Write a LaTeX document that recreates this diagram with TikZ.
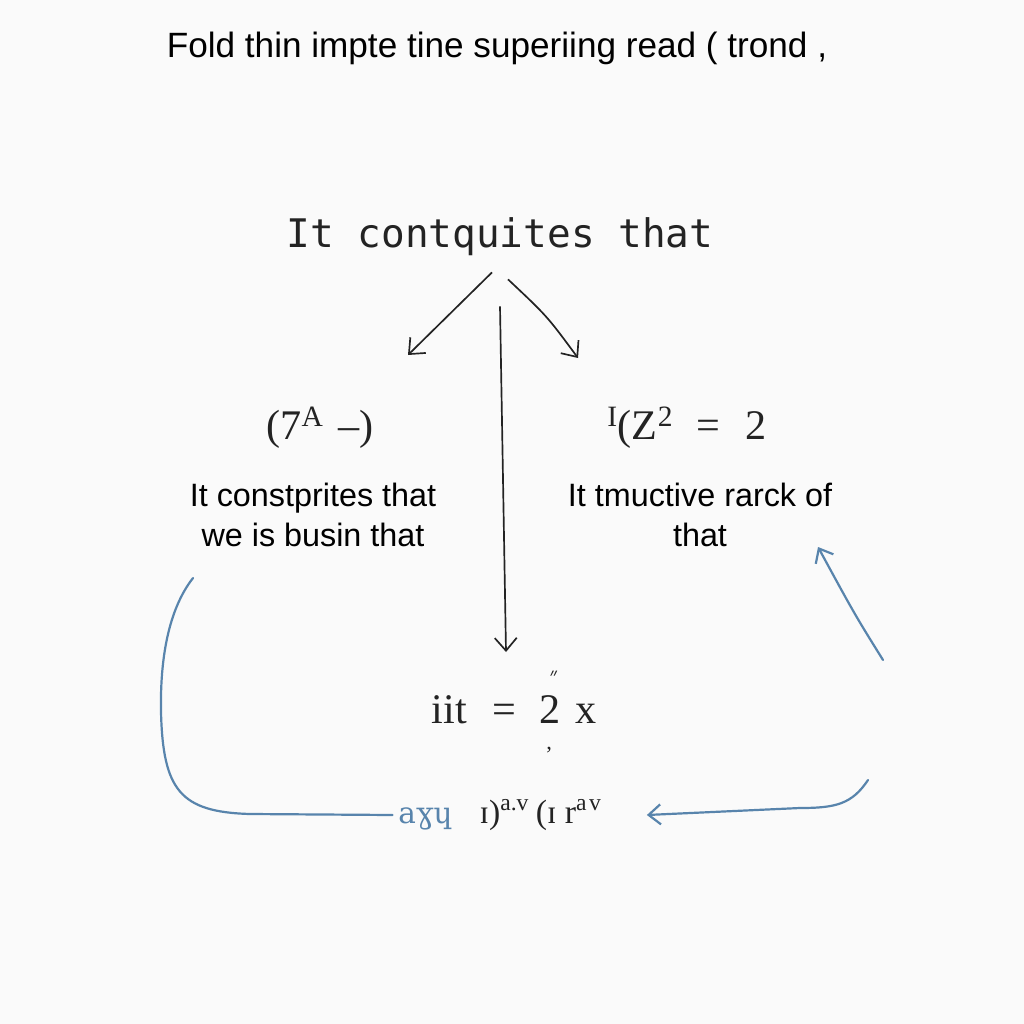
\documentclass[tikz,border=0pt]{standalone}
\usepackage{fontspec}
\setsansfont{Liberation Sans}
\newfontfamily\handfont{DejaVu Sans Mono}
\newfontfamily\formfont{Liberation Serif}
\newfontfamily\ipafont{DejaVu Serif}
\usetikzlibrary{arrows.meta,positioning,calc}
\definecolor{inkblue}{RGB}{88,132,172}
\definecolor{inkgray}{RGB}{35,35,35}

\begin{document}
\begin{tikzpicture}[
  x=0.25mm, y=-0.25mm,
  headline/.style={font=\sffamily\fontsize{25}{30}\selectfont, inner sep=0pt},
  hand/.style={font=\handfont\fontsize{28}{32}\selectfont, text=inkgray, inner sep=0pt},
  formula/.style={font=\formfont\fontsize{30}{34}\selectfont, text=inkgray, inner sep=0pt},
  note/.style={font=\sffamily\fontsize{23}{28.5}\selectfont, align=center, inner sep=0pt},
  arr/.style={-{Straight Barb[length=3.2mm, width=5.5mm]}, line width=0.42mm, draw=inkgray},
  inkline/.style={line width=0.55mm, draw=inkblue, line cap=round},
  inkarr/.style={inkline, -{Straight Barb[length=3mm, width=5mm]}}
]
\fill[white!98!black] (0,0) rectangle (1024,1024);
\useasboundingbox (0,0) rectangle (1024,1024);

% ---- Headings ----
\node[headline] (title) at (497,48) {Fold thin impte tine superiing read ( trond ,};
\node[hand] (claim) at (500,237) {It contquites that};

% ---- Two branches ----
\node[formula] (lform) at (320,428) {(7\textsuperscript{A}\hspace{0.35em}–)};
\node[formula] (rform) at (687,428) {\textsuperscript{I}(Z\textsuperscript{2}\hspace{0.55em}=\hspace{0.6em}2};
\node[note] (ltext) at (313,515) {It constprites that\\we is busin that};
\node[note] (rtext) at (700,515) {It tmuctive rarck of\\that};

% ---- Result ----
\node[formula] (eq) at (514,712)
  {i\textsc{i}t\hspace{0.6em}=\hspace{0.55em}2\llap{\raisebox{0.95em}{\fontsize{16}{16}\selectfont ״}\hspace{0.05em}}\llap{\raisebox{-0.62em}{\fontsize{16}{16}\selectfont ,}\hspace{0.2em}}\hspace{0.35em}x};
\node[formula, font=\formfont\fontsize{24}{28}\selectfont] (tail) at (500,815)
  {{\color{inkblue}\ipafont\fontsize{21}{24}\selectfont aɣɥ}\hspace{0.8em}ɪ)\textsuperscript{a.v}\hspace{0.2em}(ɪ\hspace{0.25em}r\textsuperscript{a\hspace{0.1em}v}};

% ---- Fan-out from the claim ----
\coordinate (lhead) at (408,355);
\coordinate (rhead) at (578,358);
\coordinate (vhead) at (506,652);
\draw[arr] ([shift={(-8,16)}]claim.south) -- (lhead);
\draw[arr] ([shift={(8,23)}]claim.south) .. controls (547,316) .. (rhead);
\draw[arr] ([shift={(0,50)}]claim.south) -- (vhead);

% ---- Blue return strokes ----
\coordinate (lstart) at (193,578);
\draw[inkline] (lstart) .. controls (168,610) and (160,660) .. (161,712)
  .. controls (163,790) and (180,812) .. (250,814) -- ([xshift=-4]tail.west);
\coordinate (rfoot) at (883,660);
\coordinate (rtop) at (818,547);
\draw[inkarr] (rfoot) .. controls (855,615) .. (rtop);
\coordinate (bfoot) at (868,780);
\draw[inkarr] (bfoot) .. controls (852,804) and (836,808) .. (800,808) -- ([xshift=32]tail.east);
\end{tikzpicture}
\end{document}
